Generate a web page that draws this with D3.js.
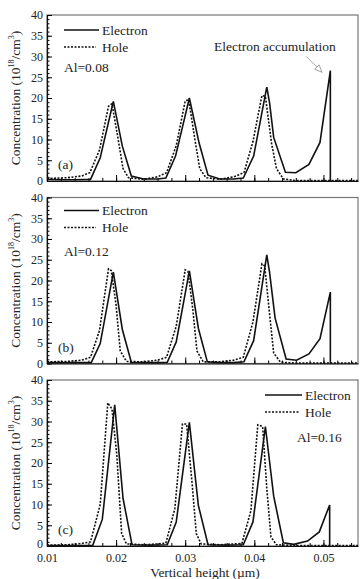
<!DOCTYPE html>
<html>
<head>
<meta charset="utf-8">
<script src="https://cdn.jsdelivr.net/npm/d3@7"></script>
<style>
  body { margin: 0; background: #fff; }
  text { font-family: "Liberation Serif", "Times New Roman", serif; fill: #222; }
</style>
</head>
<body>
<svg id="chart" width="361" height="579"></svg>
<script>
// x = vertical height (um), y = concentration (1e18 / cm^3)
var electronA = [[0.0100,0.4],[0.0120,0.3],[0.0140,0.3],[0.0163,0.4],[0.0177,5.6],[0.0196,19.2],[0.0209,8.4],[0.0222,1.2],[0.0240,0.5],[0.0260,0.5],[0.0272,0.7],[0.0286,6.0],[0.0306,20.0],[0.0320,9.2],[0.0333,1.4],[0.0350,0.5],[0.0370,0.5],[0.0384,0.7],[0.0399,6.0],[0.0418,22.6],[0.0422,18.9],[0.0428,10.5],[0.0445,2.1],[0.0460,2.0],[0.0479,4.0],[0.0495,9.3],[0.0510,26.6],[0.0510,0]];
var holeA = [[0.0100,0.6],[0.0130,0.8],[0.0150,1.2],[0.0162,2.0],[0.0176,7.5],[0.0189,18.0],[0.0194,18.6],[0.0203,10],[0.0210,3],[0.0218,0.8],[0.0240,0.4],[0.0260,1.0],[0.0273,2.0],[0.0287,8.5],[0.0300,19.3],[0.0305,19.6],[0.0314,10],[0.0321,3],[0.0330,0.8],[0.0350,0.4],[0.0370,1.0],[0.0385,2.0],[0.0398,9.5],[0.0411,20.6],[0.0416,20.4],[0.0425,9],[0.0432,3],[0.0442,0.5],[0.0460,0.1],[0.0500,0.1],[0.0550,0.1]];

var electronB = [[0.0100,0.2],[0.0140,0.2],[0.0164,0.2],[0.0177,4.8],[0.0196,22.0],[0.0209,8.2],[0.0222,0.3],[0.0240,0.2],[0.0260,0.2],[0.0274,0.3],[0.0287,5.2],[0.0306,22.3],[0.0319,8.5],[0.0332,0.4],[0.0350,0.2],[0.0370,0.2],[0.0385,0.4],[0.0399,5.5],[0.0418,26.2],[0.0422,22.0],[0.0430,11.0],[0.0446,1.1],[0.0461,0.8],[0.0479,2.3],[0.0495,6.0],[0.0510,17.2],[0.0510,0]];
var holeB = [[0.0100,0.4],[0.0130,0.5],[0.0150,0.8],[0.0163,1.5],[0.0176,8],[0.0189,22.8],[0.0193,22.4],[0.0200,14],[0.0206,3],[0.0215,0.5],[0.0240,0.4],[0.0260,0.8],[0.0273,1.5],[0.0287,9],[0.0300,22.6],[0.0304,22.2],[0.0311,13],[0.0317,3],[0.0326,0.4],[0.0350,0.4],[0.0370,0.8],[0.0384,1.5],[0.0398,10],[0.0411,24],[0.0415,23.5],[0.0422,12],[0.0428,2.5],[0.0438,0.3],[0.0460,0.1],[0.0550,0.1]];

var electronC = [[0.0100,0.1],[0.0140,0.1],[0.0166,0.1],[0.0180,6.4],[0.0198,34.0],[0.0210,11.5],[0.0223,0.3],[0.0250,0.2],[0.0274,0.3],[0.0287,5.8],[0.0306,29.8],[0.0319,9.8],[0.0333,0.3],[0.0360,0.2],[0.0384,0.3],[0.0398,5.8],[0.0416,28.8],[0.0428,12.0],[0.0442,0.8],[0.0457,0.4],[0.0477,1.2],[0.0494,3.4],[0.0509,9.9],[0.0509,0]];
var holeC = [[0.0100,0.2],[0.0130,0.3],[0.0150,0.6],[0.0163,1.0],[0.0177,10],[0.0188,34.5],[0.0194,33],[0.0201,22],[0.0208,3],[0.0215,0.5],[0.0240,0.3],[0.0260,0.5],[0.0272,0.7],[0.0285,9],[0.0296,29.4],[0.0302,29.4],[0.0310,15],[0.0316,3],[0.0323,0.5],[0.0350,0.3],[0.0370,0.5],[0.0382,0.6],[0.0395,8.5],[0.0405,29.2],[0.0412,28.8],[0.0418,14],[0.0424,2.2],[0.0432,0.3],[0.0460,0.1],[0.0550,0.1]];

var panelLabels = ["(a)", "(b)", "(c)"];
var alLabels = ["Al=0.08", "Al=0.12", "Al=0.16"];
var xTicks = [0.01, 0.02, 0.03, 0.04, 0.05];
var yTicks = [0, 5, 10, 15, 20, 25, 30, 35, 40];

var svg = d3.select("#chart");
var left = 47, right = 358, panelH = 166;
var tops = [15, 197.5, 380];

var x = d3.scaleLinear().domain([0.01, 0.055]).range([left, right]);
var minorX = d3.range(0.01, 0.0551, 0.002);
var minorY = d3.range(0, 41, 1);

var panels = [
  { e: electronA, h: holeA },
  { e: electronB, h: holeB },
  { e: electronC, h: holeC }
];

var line = function (y) {
  return d3.line().x(function (d) { return x(d[0]); }).y(function (d) { return y(d[1]); });
};

panels.forEach(function (p, i) {
  var top = tops[i], bottom = top + panelH;
  var y = d3.scaleLinear().domain([0, 40]).range([bottom, top]);
  var g = svg.append("g");

  // frame
  g.append("rect")
    .attr("x", left).attr("y", top)
    .attr("width", right - left).attr("height", panelH)
    .attr("fill", "none").attr("stroke", "#777").attr("stroke-width", 1.2);

  // y axis, inward ticks
  g.append("g")
    .attr("transform", "translate(" + left + ",0)")
    .call(d3.axisLeft(y).tickValues(minorY).tickSize(-2.5).tickSizeOuter(0).tickFormat(""))
    .call(function (a) { a.select(".domain").remove(); });
  var ya = g.append("g")
    .attr("transform", "translate(" + left + ",0)")
    .call(d3.axisLeft(y).tickValues(yTicks).tickSize(-5).tickSizeOuter(0).tickPadding(4));
  ya.selectAll("text").style("font-family", "Liberation Serif").style("font-size", "12px").attr("fill", "#222");
  ya.select(".domain").attr("stroke", "#111").attr("stroke-width", 1.2);
  // the lowest label of the last panel sits a bit higher to clear the x labels
  if (i === 2) ya.selectAll("text").filter(function (d) { return d === 0; }).attr("dy", "0.1em");

  // x axis, inward ticks
  g.append("g")
    .attr("transform", "translate(0," + bottom + ")")
    .call(d3.axisBottom(x).tickValues(minorX).tickSize(-3).tickSizeOuter(0).tickFormat(""))
    .call(function (a) { a.select(".domain").remove(); });
  var xa = g.append("g")
    .attr("transform", "translate(0," + bottom + ")")
    .call(d3.axisBottom(x).tickValues(xTicks).tickSize(-6).tickSizeOuter(0).tickPadding(7)
      .tickFormat(i === 2 ? d3.format(".2f") : ""));
  xa.selectAll("text").style("font-family", "Liberation Serif").style("font-size", "12px").attr("fill", "#222");
  xa.select(".domain").attr("stroke", "#111").attr("stroke-width", 1.2);

  // curves
  g.append("path").datum(p.h)
    .attr("d", line(y))
    .attr("fill", "none").attr("stroke", "#111").attr("stroke-width", 1.6)
    .attr("stroke-dasharray", "2,1.5");
  g.append("path").datum(p.e)
    .attr("d", line(y))
    .attr("fill", "none").attr("stroke", "#111").attr("stroke-width", 1.6)
    .attr("stroke-linejoin", "miter");

  // y label
  var yl = g.append("text")
    .attr("transform", "translate(17," + (top + panelH / 2) + ") rotate(-90)")
    .attr("text-anchor", "middle")
    .attr("dominant-baseline", "middle")
    .style("font-size", "13.5px");
  yl.append("tspan").text("Concentration (10");
  yl.append("tspan").attr("dy", -5).style("font-size", "8px").text("18");
  yl.append("tspan").attr("dy", 5).text("/cm");
  yl.append("tspan").attr("dy", -5).style("font-size", "8px").text("3");
  yl.append("tspan").attr("dy", 5).text(")");

  // legend
  var lx0, lx1, ly, alx, aly;
  if (i < 2) {
    lx0 = 64; lx1 = 99; ly = top + (i === 0 ? 15 : 13); alx = 64; aly = top + (i === 0 ? 57 : 58);
  } else {
    lx0 = 265; lx1 = 302; ly = top + 15; alx = 297; aly = top + 62;
  }
  g.append("line").attr("x1", lx0).attr("x2", lx1).attr("y1", ly).attr("y2", ly)
    .attr("stroke", "#111").attr("stroke-width", 1.6);
  g.append("text").attr("x", lx1 + 3).attr("y", ly + 4.5).style("font-size", "13.5px").text("Electron");
  g.append("line").attr("x1", lx0).attr("x2", lx1 - 3).attr("y1", ly + 17).attr("y2", ly + 17)
    .attr("stroke", "#111").attr("stroke-width", 1.6).attr("stroke-dasharray", "2,1.5");
  g.append("text").attr("x", lx1 + 3).attr("y", ly + 21.5).style("font-size", "13.5px").text("Hole");
  g.append("text").attr("x", alx).attr("y", aly).style("font-size", "13.5px").text(alLabels[i]);

  g.append("text").attr("x", 58).attr("y", bottom - 12).style("font-size", "13.5px").text(panelLabels[i]);

  if (i === 0) {
    // annotation
    g.append("text").attr("x", 214).attr("y", top + 36).style("font-size", "13.5px").text("Electron accumulation");
    var tipX = x(0.0498), tipY = y(26.2);
    var sx = tipX - 16, sy = tipY - 16;
    g.append("line").attr("x1", sx).attr("y1", sy).attr("x2", tipX).attr("y2", tipY)
      .attr("stroke", "#999").attr("stroke-width", 0.9);
    var ang = Math.atan2(tipY - sy, tipX - sx);
    var hl = 8, hw = 0.4;
    var p1 = [tipX - hl * Math.cos(ang - hw), tipY - hl * Math.sin(ang - hw)];
    var p2 = [tipX - hl * Math.cos(ang + hw), tipY - hl * Math.sin(ang + hw)];
    g.append("path")
      .attr("d", "M" + p1 + "L" + [tipX, tipY] + "L" + p2 + "Z")
      .attr("fill", "#fff").attr("stroke", "#999").attr("stroke-width", 0.9);
  }
});

svg.append("text")
  .attr("x", 205).attr("y", 577)
  .attr("text-anchor", "middle")
  .style("font-size", "13.5px")
  .text("Vertical height (\u00b5m)");
</script>
</body>
</html>
